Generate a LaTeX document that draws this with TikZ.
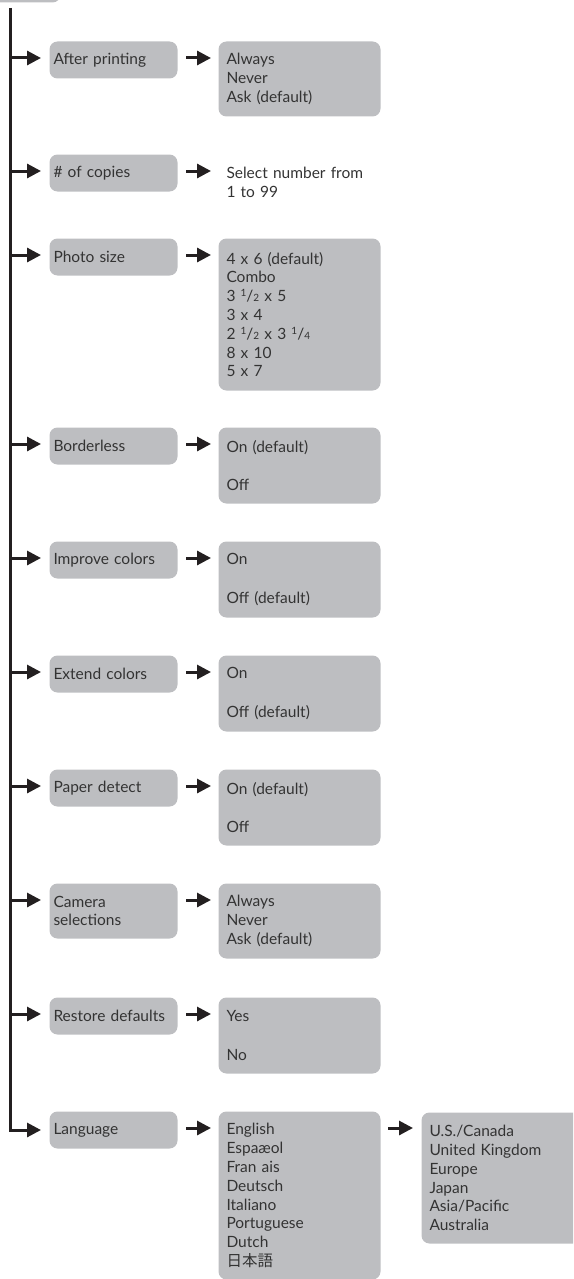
\documentclass[tikz,border=0pt]{standalone}
\usepackage{fontspec}
\setmainfont{Lato}
\newfontfamily\cjk{Noto Sans CJK JP}
\usetikzlibrary{arrows.meta, positioning, calc}
\definecolor{cgrey}{HTML}{BDBEC1}
\definecolor{cink}{HTML}{231F20}
\definecolor{ctext}{HTML}{333333}
\newcommand{\menufont}{\fontsize{15.5}{18.8}\selectfont}
\newcommand{\frc}[2]{\raisebox{0.3em}{\fontsize{10}{10}\selectfont #1}/{\fontsize{10}{10}\selectfont #2}}
\tikzset{
  every picture/.style={line width=3pt},
  item/.style={fill=cgrey, rounded corners=8pt, align=left, text width=120pt, inner xsep=4pt, inner ysep=0pt, minimum height=#1, anchor=north west, text=ctext, font=\menufont},
  item/.default=37pt,
  choice/.style={fill=cgrey, rounded corners=8pt, align=left, text width=146pt, inner xsep=8pt, inner ysep=0pt, minimum height=#1, anchor=north west, text=ctext, font=\menufont},
  choice/.default=76pt,
  arrow/.style={-{Triangle[length=14pt, width=14pt]}, draw=cink, line width=3pt},
}
\begin{document}
\begin{tikzpicture}[x=1pt, y=-1pt]
  \clip (0,0) rectangle (573,1279);
  % ---------- menu entry above, cut by the page edge
  \node[fill=cgrey, rounded corners=8pt, anchor=south east, minimum width=90pt, minimum height=40pt] (menu) at (62,4) {};
  \coordinate (tr) at (10,8);
  \foreach \t [count=\i] in {40,153,237,426,540,654,768,882,996,1110}
    \coordinate (r\i) at (10,\t+18);
  % ---------- settings
  \node[item] (l1) at (48,40) {After printing};
  \node[choice=75pt] (o1) at (217,40) {Always\\Never\\Ask (default)};
  \node[item] (l2) at (48,153) {\# of copies};
  \node[choice=56pt, fill=none] (o2) at (217,153) {Select number from\\1 to 99};
  \node[item] (l3) at (48,237) {Photo size};
  \node[choice=152pt] (o3) at (217,237) {4 x 6 (default)\\Combo\\3 \frc{1}{2} x 5\\3 x 4\\2 \frc{1}{2} x 3 \frc{1}{4}\\8 x 10\\5 x 7};
  \node[item] (l4) at (48,426) {Borderless};
  \node[choice] (o4) at (217,426) {On (default)\\[20pt]Off};
  \node[item] (l5) at (48,540) {Improve colors};
  \node[choice] (o5) at (217,540) {On\\[20pt]Off (default)};
  \node[item] (l6) at (48,654) {Extend colors};
  \node[choice] (o6) at (217,654) {On\\[20pt]Off (default)};
  \node[item] (l7) at (48,768) {Paper detect};
  \node[choice] (o7) at (217,768) {On (default)\\[20pt]Off};
  \node[item=55pt] (l8) at (48,882) {Camera\\selections};
  \node[choice=75pt] (o8) at (217,882) {Always\\Never\\Ask (default)};
  \node[item] (l9) at (48,996) {Restore defaults};
  \node[choice] (o9) at (217,996) {Yes\\[20pt]No};
  \node[item] (l10) at (48,1110) {Language};
  \node[choice=168pt] (o10) at (217,1110) {English\\Espaæol\\Fran ais\\Deutsch\\Italiano\\Portuguese\\Dutch\\{\cjk 日本語}};
  \node[choice=131pt] (p10) at (420,1111) {U.S./Canada\\United Kingdom\\Europe\\Japan\\Asia/Pacific\\Australia};
  % ---------- connectors
  \foreach \i in {1,...,9} {
    \draw[arrow, shorten >=7pt] (r\i) -- (r\i -| l\i.west);
    \draw[arrow, shorten <=7pt, shorten >=6pt] (r\i -| l\i.east) -- (r\i -| o\i.west);
  }
  \draw[arrow, shorten >=7pt] (tr) |- (l10.west);
  \draw[arrow, shorten <=7pt, shorten >=6pt] (r10 -| l10.east) -- (r10 -| o10.west);
  \draw[arrow, shorten <=6pt, shorten >=7pt] (r10 -| o10.east) -- (r10 -| p10.west);
\end{tikzpicture}
\end{document}
